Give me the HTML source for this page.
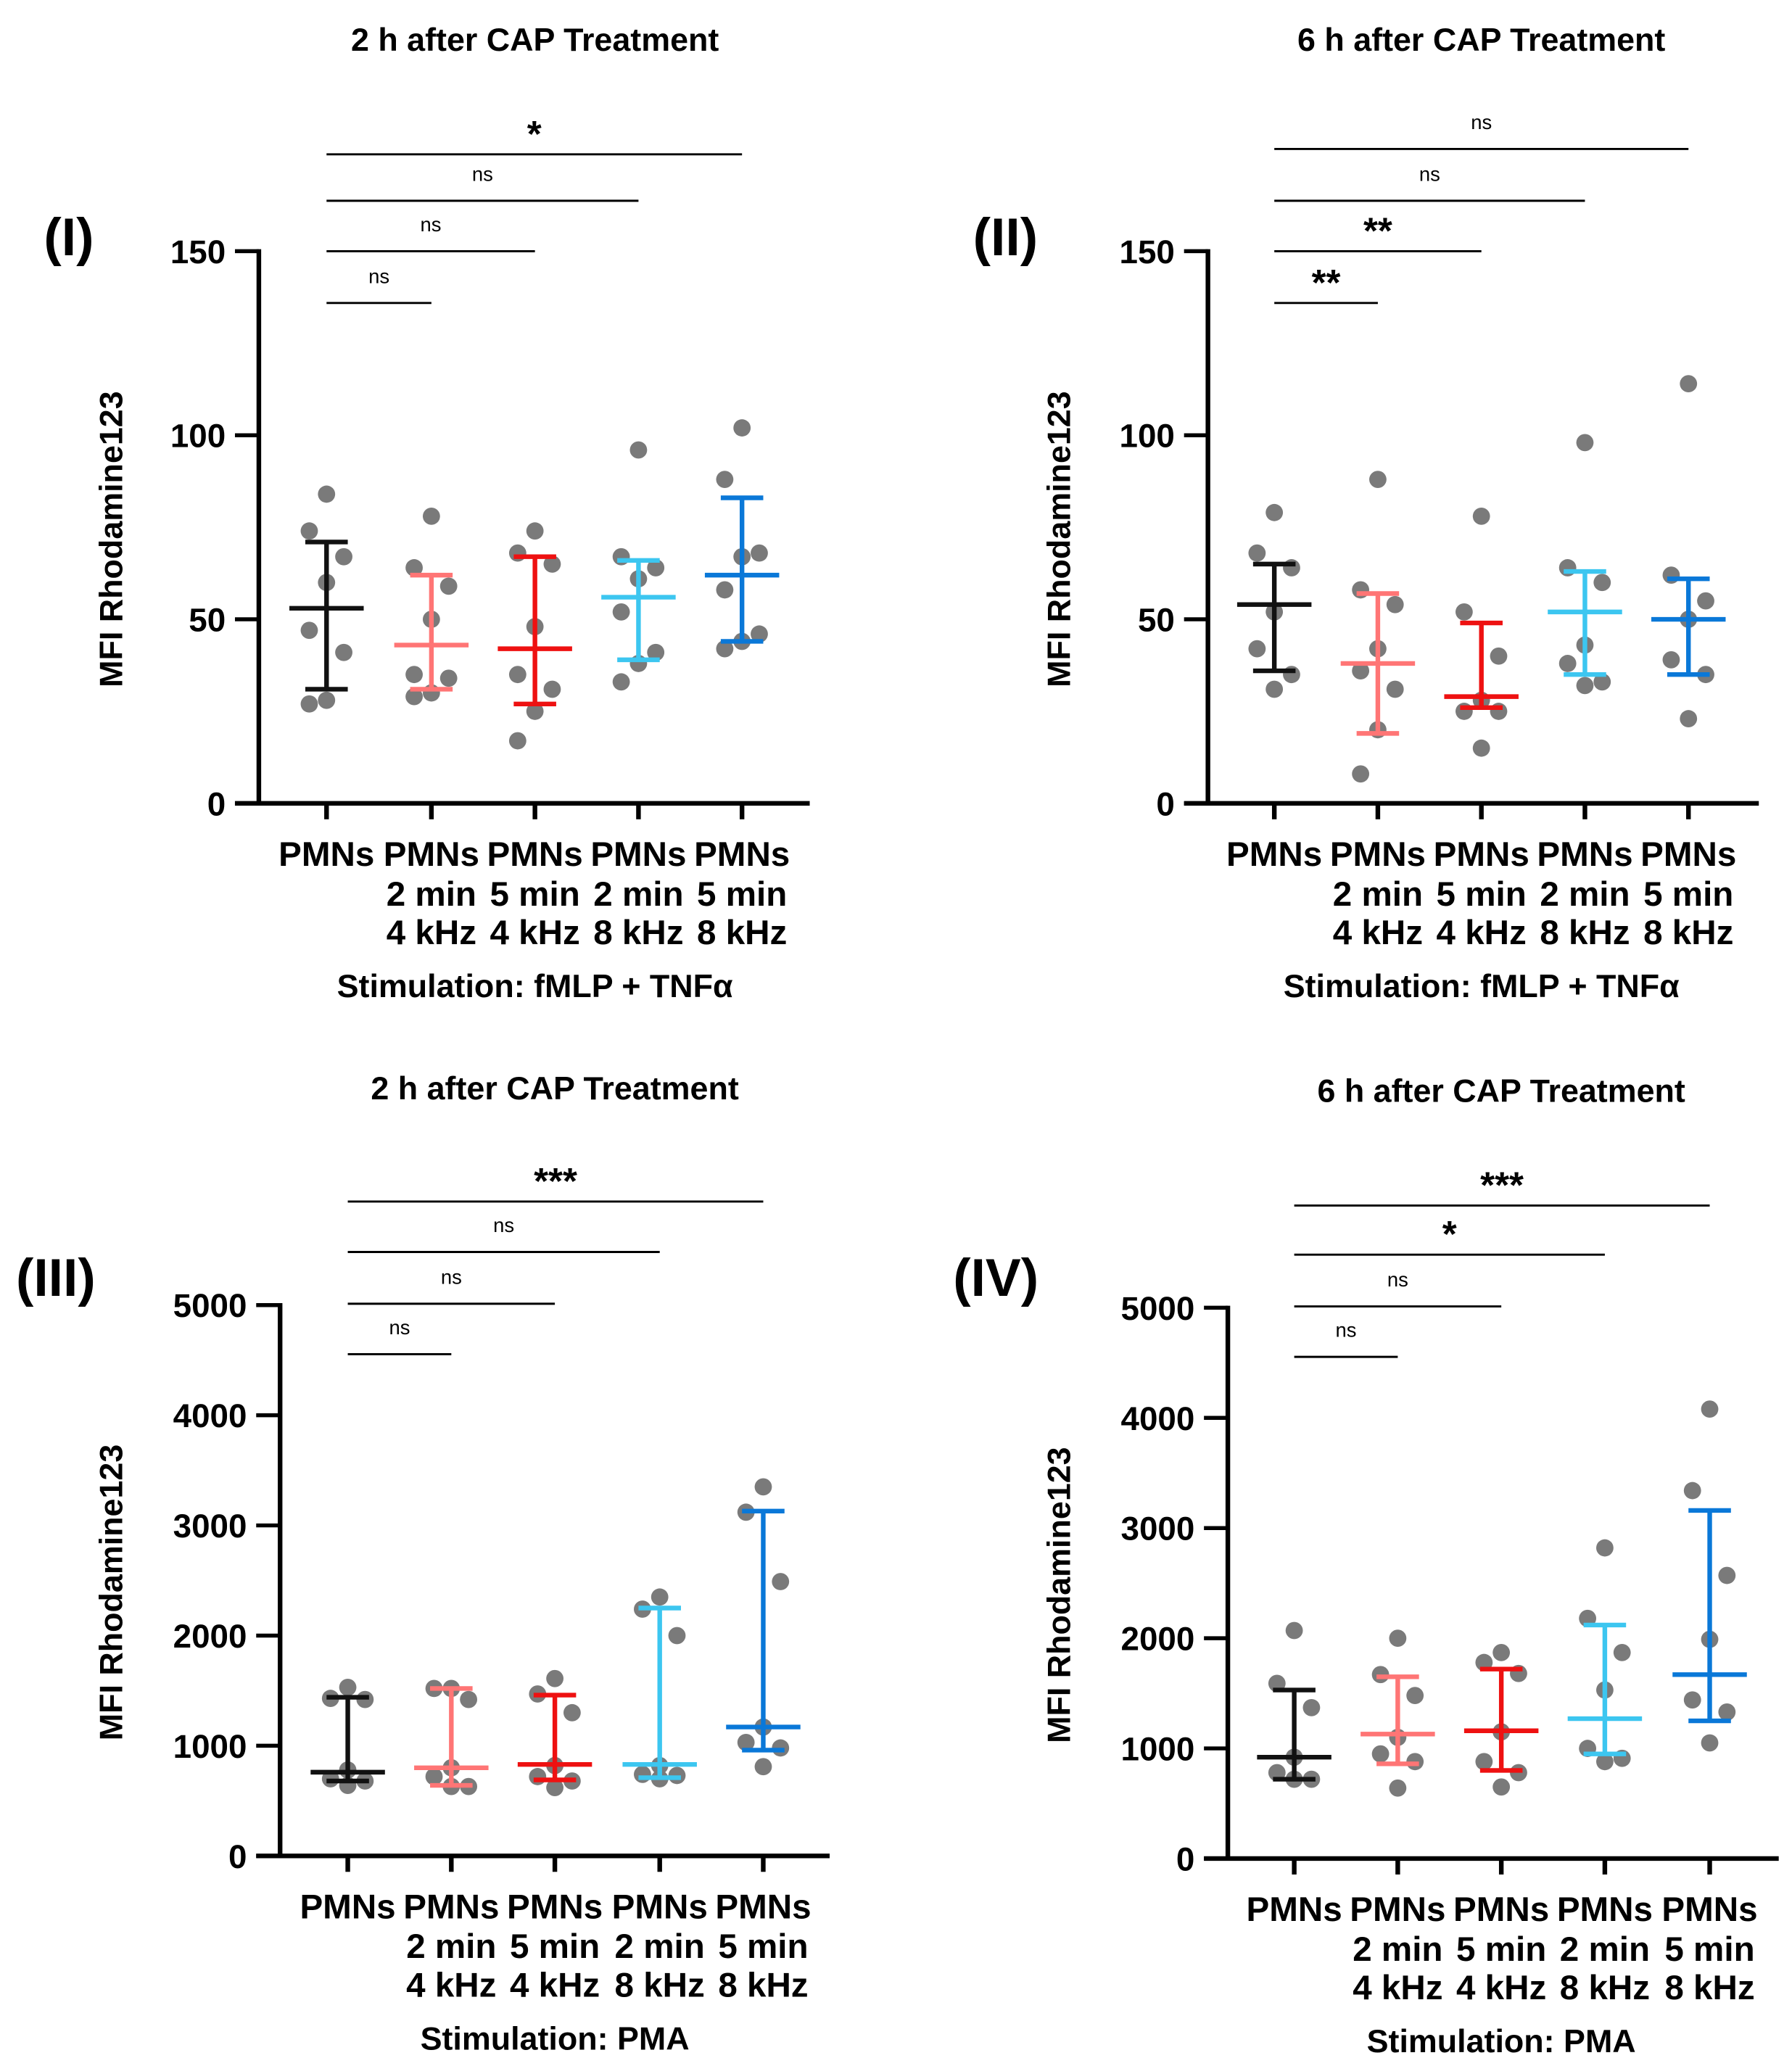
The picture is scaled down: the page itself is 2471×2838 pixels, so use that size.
<!DOCTYPE html>
<html><head><meta charset="utf-8"><style>
html,body{margin:0;padding:0;background:#fff}
svg{display:block}
text{font-family:"Liberation Sans",Arial,sans-serif}
</style></head><body>
<svg id="s" width="2471" height="2838" viewBox="0 0 1350 1550" xmlns="http://www.w3.org/2000/svg"></svg>
<script>
const S=document.getElementById('s');let h='';
const cols=['#111','#ff7575','#ee1111','#3cc6f0','#0a78d8'];
function T(x,y,t,sz,w,anc,ex){h+=`<text x="${x}" y="${y}" font-size="${sz}" font-weight="${w}" text-anchor="${anc||'middle'}" ${ex||''}>${t}</text>`;}
function L(x1,y1,x2,y2,c,w){h+=`<line x1="${x1}" y1="${y1}" x2="${x2}" y2="${y2}" stroke="${c}" stroke-width="${w}"/>`;}
function panel(p){
 const {ax,top,bot,xend,cx,max,step,title,ty,lab,lx,ly,stim,sig,data,ylx}=p;
 const Y=v=>bot-(v/max)*(bot-top);
 T(cx[2],ty,title,24.5,'bold');
 T(lx,ly,lab,40,'bold','start');
 L(ax,top-1.5,ax,bot+1.5,'#000',3.5);L(ax-18,bot,xend,bot,'#000',3.5);
 for(let v=0;v<=max;v+=step){L(ax-18,Y(v),ax,Y(v),'#000',3);T(ax-25,Y(v)+9,v,25,'bold','end');}
 cx.forEach(x=>L(x,bot,x,bot+12,'#000',3.5));
 const l2=['','2 min','5 min','2 min','5 min'],l3=['','4 kHz','4 kHz','8 kHz','8 kHz'];
 cx.forEach((x,i)=>{T(x,bot+47,'PMNs',26,'bold');T(x,bot+77,l2[i],26,'bold');T(x,bot+106,l3[i],26,'bold');});
 T(cx[2],bot+146,stim,24.5,'bold');
 h+=`<text x="0" y="0" font-size="24.5" font-weight="bold" text-anchor="middle" transform="translate(${ylx},${(top+bot)/2+9}) rotate(-90)">MFI Rhodamine123</text>`;
 sig.forEach(s=>{L(cx[0],s[0],cx[s[1]],s[0],'#000',1.6);const star=s[2]!='ns';T((cx[0]+cx[s[1]])/2,star?s[0]-6:s[0]-15,s[2],star?28:15,star?'bold':'normal');});
 data.forEach((d,i)=>{const x=cx[i];const off=[0,-13,13,0,-13,13,0,-13,13];
  const pts=d.p.slice().sort((a,b)=>b-a);
  pts.forEach((v,k)=>{h+=`<circle cx="${x+off[k%off.length]}" cy="${Y(v)}" r="6.5" fill="#7a7a7a"/>`;});
  const c=cols[i];L(x,Y(d.lo),x,Y(d.hi),c,3.5);L(x-16,Y(d.lo),x+16,Y(d.lo),c,3.5);L(x-16,Y(d.hi),x+16,Y(d.hi),c,3.5);L(x-28,Y(d.m),x+28,Y(d.m),c,3.5);});
}
panel({ax:195,top:189,bot:605,xend:610,cx:[246,325,403,481,559],max:150,step:50,title:'2 h after CAP Treatment',ty:38,lab:'(I)',lx:33,ly:192,ylx:92,stim:'Stimulation: fMLP + TNFα',
 sig:[[116,4,'*'],[151,3,'ns'],[189,2,'ns'],[228,1,'ns']],
 data:[{p:[84,74,67,60,47,41,27,28],m:53,lo:31,hi:71},{p:[78,64,59,50,34,35,29,30],m:43,lo:31,hi:62},{p:[74,68,65,48,35,31,25,17],m:42,lo:27,hi:67},{p:[96,67,64,61,52,41,38,33],m:56,lo:39,hi:66},{p:[102,88,67,68,58,46,42,44],m:62,lo:44,hi:83}]});
panel({ax:910,top:189,bot:605,xend:1325,cx:[960,1038,1116,1194,1272],max:150,step:50,title:'6 h after CAP Treatment',ty:38,lab:'(II)',lx:733,ly:192,ylx:806,stim:'Stimulation: fMLP + TNFα',
 sig:[[112,4,'ns'],[151,3,'ns'],[189,2,'**'],[228,1,'**']],
 data:[{p:[79,68,64,52,42,35,31],m:54,lo:36,hi:65},{p:[88,58,54,42,36,31,20,8],m:38,lo:19,hi:57},{p:[78,52,40,28,25,25,15],m:29,lo:26,hi:49},{p:[98,64,60,43,38,33,32],m:52,lo:35,hi:63},{p:[114,62,55,50,39,35,23],m:50,lo:35,hi:61}]});
panel({ax:211,top:983,bot:1398,xend:625,cx:[262,340,418,497,575],max:5000,step:1000,title:'2 h after CAP Treatment',ty:828,lab:'(III)',lx:12,ly:976,ylx:92,stim:'Stimulation: PMA',
 sig:[[905,4,'***'],[943,3,'ns'],[982,2,'ns'],[1020,1,'ns']],
 data:[{p:[1530,1430,1420,780,680,640,700],m:760,lo:680,hi:1440},{p:[1520,1520,1420,800,720,630,630],m:800,lo:640,hi:1520},{p:[1610,1470,1300,820,720,620,680],m:830,lo:690,hi:1460},{p:[2350,2240,2000,820,740,700,730],m:830,lo:710,hi:2250},{p:[3350,3120,2490,1170,1030,980,810],m:1170,lo:960,hi:3130}]});
panel({ax:925,top:985,bot:1400,xend:1340,cx:[975,1053,1131,1209,1288],max:5000,step:1000,title:'6 h after CAP Treatment',ty:830,lab:'(IV)',lx:718,ly:976,ylx:806,stim:'Stimulation: PMA',
 sig:[[908,4,'***'],[945,3,'*'],[984,2,'ns'],[1022,1,'ns']],
 data:[{p:[2070,1590,1370,920,780,720,720],m:920,lo:720,hi:1530},{p:[2000,1670,1480,1100,950,880,640],m:1130,lo:860,hi:1650},{p:[1870,1780,1680,1150,880,780,650],m:1160,lo:800,hi:1720},{p:[2820,2180,1870,1530,1000,910,880],m:1270,lo:950,hi:2120},{p:[4080,3340,2570,1990,1440,1330,1050],m:1670,lo:1250,hi:3160}]});
S.innerHTML=h;
</script>
</body></html>
